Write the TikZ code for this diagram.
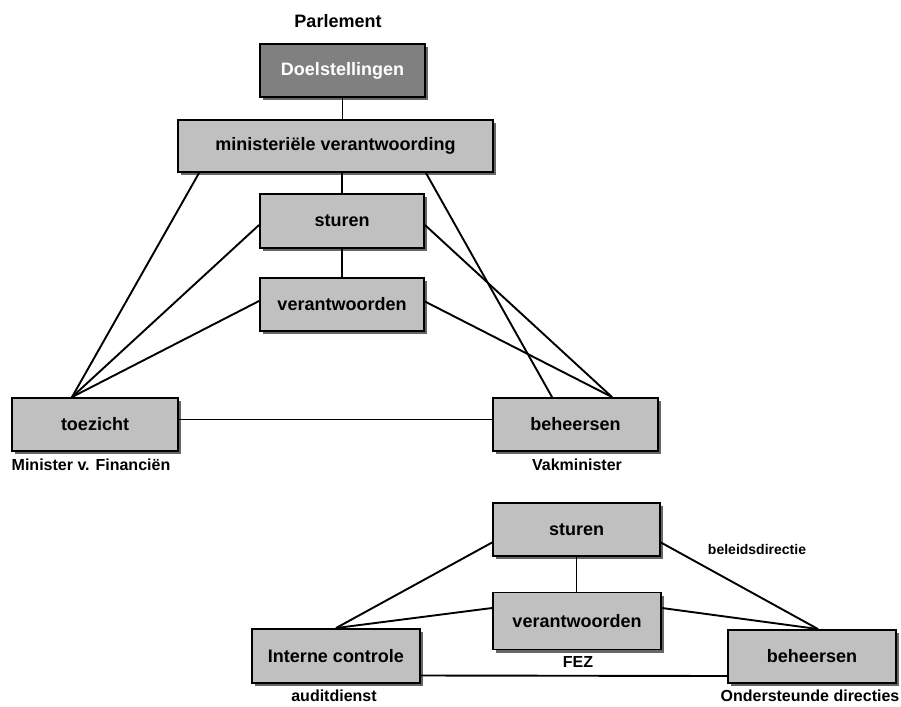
\documentclass[tikz,border=0pt]{standalone}
\usepackage{fontspec}
\setmainfont{Liberation Sans}
\usetikzlibrary{shadows}
\definecolor{boxgray}{HTML}{C0C0C0}
\definecolor{darkbox}{HTML}{808080}

\begin{document}
\begin{tikzpicture}[
  x=1pt, y=-1pt,
  box/.style={draw, line width=1.9pt, fill=boxgray, minimum width=165pt, minimum height=53pt, inner sep=0pt,
    font=\fontsize{18}{21}\selectfont\bfseries,
    drop shadow={shadow xshift=3pt, shadow yshift=-3pt, fill=black!60, opacity=1}},
  lbl/.style={font=\fontsize{16}{19}\selectfont\bfseries},
  conn/.style={line width=1.9pt}
]
\useasboundingbox (0,0) rectangle (901,706);

% upper triangle
\node[lbl, font=\fontsize{18}{21}\selectfont\bfseries] (parl) at (338,21) {Parlement};
\node[box, fill=darkbox, text=white] (doel) at (342.5,70.5) {Doelstellingen};
\node[box, minimum width=315pt, minimum height=52pt] (mv) at (335.5,146) {ministeriële verantwoording};
\node[box, minimum width=164pt, minimum height=54pt] (stur1) at (342,221) {sturen};
\node[box, minimum width=164pt] (verant1) at (342,304.5) {verantwoorden};
\node[box, minimum width=166pt] (toez) at (95,424.5) {toezicht};
\node[box] (beh1) at (575.5,424.5) {beheersen};
\node[lbl] (minfin) at (91,465) {Minister v. Financiën};
\node[lbl] (vakmin) at (577,465) {Vakminister};

\coordinate (mvL) at ([xshift=22pt]mv.south west);
\coordinate (mvR) at ([xshift=-68pt]mv.south east);
\coordinate (toezT) at ([xshift=-23pt]toez.north);
\coordinate (beh1L) at ([xshift=-23.5pt]beh1.north);
\coordinate (beh1R) at ([xshift=36.5pt]beh1.north);

\draw[conn] (doel.south) -- (doel.south |- mv.north);
\draw[conn] (stur1.north) -- (stur1.north |- mv.south);
\draw[conn] (stur1.south) -- (verant1.north);
\draw[conn] (mvL) -- (toezT);
\draw[conn] ([yshift=-4pt]stur1.west) -- (toezT);
\draw[conn] ([yshift=3.5pt]verant1.west) -- (toezT);
\draw[conn] (mvR) -- (beh1L);
\draw[conn] ([yshift=-4pt]stur1.east) -- (beh1R);
\draw[conn] ([yshift=3pt]verant1.east) -- (beh1R);
\draw[conn] ([yshift=5pt]toez.east) -- ([yshift=5pt]beh1.west);

% lower triangle
\node[box, minimum width=167pt] (stur2) at (576.5,529.5) {sturen};
\node[box, minimum width=168pt, minimum height=57pt] (verant2) at (577,621) {verantwoorden};
\node[box, minimum width=168pt, minimum height=54pt] (intc) at (336,656) {Interne controle};
\node[box, minimum width=168pt] (beh2) at (812,656.5) {beheersen};
\node[lbl, font=\fontsize{14}{17}\selectfont\bfseries] (beleid) at (757,549) {beleidsdirectie};
\node[lbl] (fez) at (578,662) {FEZ};
\node[lbl] (audit) at (334,696) {auditdienst};
\node[lbl] (onderst) at (810,696) {Ondersteunde directies};

\coordinate (beh2T) at ([xshift=6pt]beh2.north);

\draw[conn] (stur2.south) -- (stur2.south |- verant2.north);
\draw[conn] ([yshift=-13pt]stur2.west) -- (intc.north);
\draw[conn] ([yshift=13pt]verant2.west) -- (intc.north);
\draw[conn] ([yshift=-13pt]stur2.east) -- (beh2T);
\draw[conn] ([yshift=13pt]verant2.east) -- (beh2T);
\draw[conn] ([yshift=-19.5pt]intc.east) -- ([yshift=-19.5pt]beh2.west);
\end{tikzpicture}
\end{document}
